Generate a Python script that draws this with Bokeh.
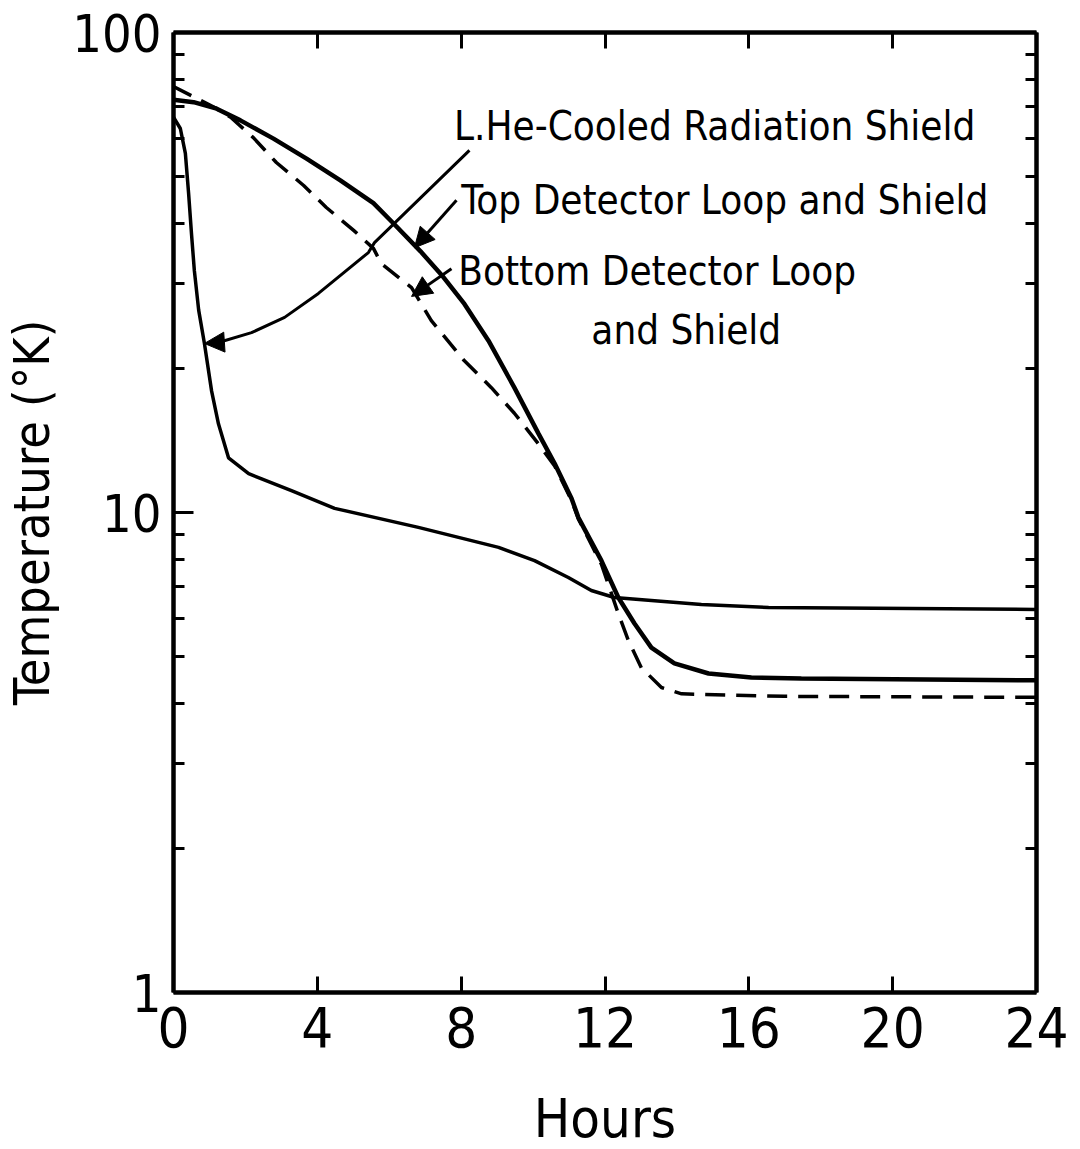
from bokeh.plotting import figure
from bokeh.models import FixedTicker, LinearAxis, LogAxis, Arrow, NormalHead, Range1d
from bokeh.core.properties import value
from bokeh.embed import file_html
from bokeh.resources import INLINE

FONT = "DejaVu Sans Condensed"

# ---- data (hours, temperature in K) ----
top_hours = [0.0, 0.56, 1.2, 1.86, 2.78, 3.70, 4.64, 5.56, 6.12, 6.87, 7.45, 8.09, 8.76,
             9.48, 10.15, 10.60, 11.07, 11.26, 11.90, 12.37, 12.82, 13.29, 13.93, 14.88,
             16.07, 17.46, 24.0]
top_temp = [72.4, 71.6, 69.4, 65.6, 60.1, 54.6, 49.2, 44.1, 40.0, 35.0, 31.3, 27.2, 22.8,
            18.2, 14.6, 12.65, 10.7, 9.76, 7.94, 6.65, 5.87, 5.23, 4.85, 4.62,
            4.53, 4.51, 4.47]

bottom_hours = [0.0, 1.2, 1.59, 2.22, 2.86, 3.62, 4.25, 5.01, 5.56, 5.78, 6.62, 7.17, 8.09,
                8.84, 9.48, 10.15, 10.60, 11.07, 11.26, 11.90, 12.37, 12.65, 13.01, 13.57,
                14.13, 17.0, 24.0]
bottom_temp = [77.2, 69.4, 66.6, 60.4, 53.6, 48.0, 43.2, 38.7, 35.5, 33.0, 29.4, 25.1, 20.7,
               18.2, 16.1, 13.9, 12.5, 10.6, 9.7, 7.8, 6.16, 5.41, 4.75, 4.32,
               4.19, 4.14, 4.12]

shield_hours = [0.0, 0.19, 0.33, 0.42, 0.50, 0.58, 0.70, 0.86, 1.06, 1.25, 1.53, 2.09, 3.28,
                4.48, 6.81, 9.04, 10.04, 10.98, 11.62, 12.26, 13.29, 14.68, 16.55, 24.0]
shield_temp = [66.6, 63.1, 56.0, 46.2, 38.1, 31.9, 26.4, 22.5, 17.9, 15.3, 13.0, 12.05, 11.1,
               10.2, 9.31, 8.46, 7.94, 7.32, 6.88, 6.65, 6.56, 6.43, 6.34, 6.28]

x_ticks = [0, 4, 8, 12, 16, 20, 24]
y_ticks = [1, 10, 100]
y_tick_labels = ["1", "10", "100"]
y_minor = [2, 3, 4, 5, 6, 7, 8, 9, 20, 30, 40, 50, 60, 70, 80, 90]

# annotation texts and anchor points (hours, K)
label_texts = ["L.He-Cooled Radiation Shield", "Top Detector Loop and Shield",
               "Bottom Detector Loop", "and Shield"]
label_x = [7.80, 8.00, 7.92, 11.62]
label_y = [64.0, 44.7, 31.9, 24.0]

# pointer to the radiation shield curve (curved leader)
lead1_x = [8.23, 5.59, 5.42, 4.03, 3.09, 2.17, 1.25]
lead1_y = [56.8, 36.5, 34.8, 28.6, 25.5, 23.7, 22.6]
tip1 = (0.86, 22.5)
# pointers to the detector curves
lead2 = (7.87, 44.7, 6.70, 35.6)
lead3 = (7.73, 32.2, 6.62, 28.2)

p = figure(frame_width=863, frame_height=960, x_range=Range1d(0, 24), y_range=Range1d(1, 100),
           y_axis_type="log", output_backend="svg", toolbar_location=None,
           min_border_left=172, min_border_right=37, min_border_top=32, min_border_bottom=120,
           background_fill_color="white", border_fill_color="white")
p.outline_line_color = None
p.grid.visible = False

xa = p.xaxis[0]
xa.ticker = FixedTicker(ticks=x_ticks, minor_ticks=[])
xa.axis_label = "Hours"
ya = p.yaxis[0]
ya.ticker = FixedTicker(ticks=y_ticks, minor_ticks=y_minor)
ya.major_label_overrides = {t: s for t, s in zip(y_ticks, y_tick_labels)}
ya.axis_label = "Temperature (°K)"

for ax in (xa, ya):
    ax.axis_line_width = 4.5
    ax.major_tick_line_width = 3
    ax.minor_tick_line_width = 3
    ax.major_tick_out = 0
    ax.minor_tick_out = 0
    ax.major_label_text_font = FONT
    ax.major_label_text_color = "black"
    ax.axis_label_text_font = FONT
    ax.axis_label_text_font_style = "normal"
    ax.axis_label_text_color = "black"
xa.major_label_text_font_size = "56px"
xa.major_tick_in = 16
xa.minor_tick_in = 0
xa.major_label_standoff = 14
xa.axis_label_text_font_size = "54px"
xa.axis_label_standoff = 37
ya.major_label_text_font_size = "52px"
ya.major_tick_in = 20
ya.minor_tick_in = 11
ya.major_label_standoff = 12
ya.axis_label_text_font_size = "50px"
ya.axis_label_standoff = 8
ya.major_label_orientation = "horizontal"

top_ax = LinearAxis(ticker=FixedTicker(ticks=x_ticks, minor_ticks=[]))
right_ax = LogAxis(ticker=FixedTicker(ticks=y_ticks, minor_ticks=y_minor))
for ax in (top_ax, right_ax):
    ax.axis_line_width = 4.5
    ax.major_tick_line_width = 3
    ax.minor_tick_line_width = 3
    ax.major_tick_out = 0
    ax.minor_tick_out = 0
    ax.major_label_text_font_size = "8px"
    ax.major_label_text_color = None
    ax.major_label_standoff = 0
top_ax.major_tick_in = 16
top_ax.minor_tick_in = 0
right_ax.major_tick_in = 11
right_ax.minor_tick_in = 11
p.add_layout(top_ax, "above")
p.add_layout(right_ax, "right")

# curves
p.line(shield_hours, shield_temp, line_color="black", line_width=3.5)
p.line(top_hours, top_temp, line_color="black", line_width=4.5)
p.line(bottom_hours, bottom_temp, line_color="black", line_width=3.5, line_dash="20 11")

# annotation texts
p.text(x=label_x, y=label_y, text=label_texts, text_font=value(FONT), text_font_size="40px",
       text_color="black", text_align="left", text_baseline="alphabetic")

# leaders and arrows
p.line(lead1_x, lead1_y, line_color="black", line_width=3)
head = dict(size=20, fill_color="black", line_color="black", line_width=1)
p.add_layout(Arrow(end=NormalHead(**head), x_start=lead1_x[-1], y_start=lead1_y[-1],
                   x_end=tip1[0], y_end=tip1[1], line_width=3, line_color="black"))
p.add_layout(Arrow(end=NormalHead(**head), x_start=lead2[0], y_start=lead2[1],
                   x_end=lead2[2], y_end=lead2[3], line_width=3, line_color="black"))
p.add_layout(Arrow(end=NormalHead(**head), x_start=lead3[0], y_start=lead3[1],
                   x_end=lead3[2], y_end=lead3[3], line_width=3, line_color="black"))

open("out.html", "w").write(file_html(p, INLINE))
